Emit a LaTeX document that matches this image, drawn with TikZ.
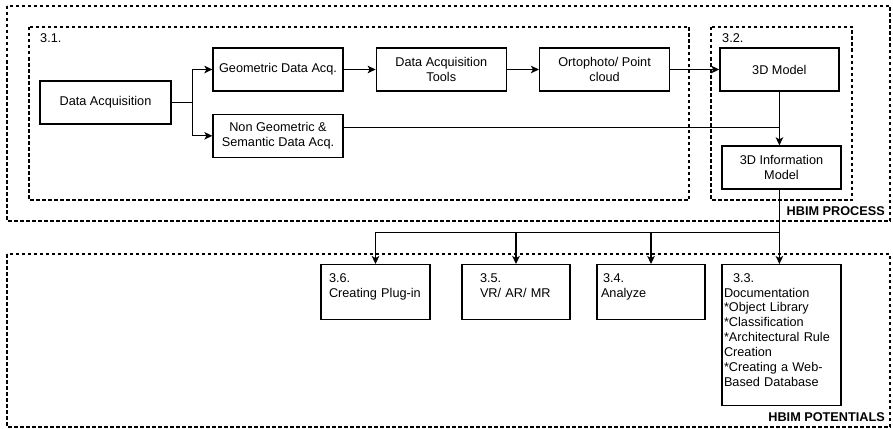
\documentclass[tikz,border=0pt]{standalone}
\usepackage{fontspec}
\setmainfont{Liberation Sans}
\usetikzlibrary{positioning,arrows.meta}

\tikzset{
  stepbox/.style={draw, line width=1.3pt, align=center, minimum width=130pt,
    minimum height=43pt, inner sep=2pt},
  potbox/.style={draw, line width=1.3pt, anchor=north, align=left,
    inner ysep=0pt, text height=17.5pt, text depth=37.5pt},
  group/.style={draw, line width=1.3pt, dash pattern=on 3.5pt off 2.5pt},
  link/.style={->, line width=1.3pt},
  tag/.style={inner sep=0pt},
  title/.style={inner sep=0pt, anchor=east, font=\fontsize{12.7}{15}\selectfont\bfseries}
}

\begin{document}
\begin{tikzpicture}[x=1pt, y=-1pt, >={Stealth[length=8pt,width=7.5pt,inset=2pt]},
    font=\fontsize{12.7}{14.9}\selectfont]
  \useasboundingbox (0,0) rectangle (893,428);

  % dashed groups
  \draw[group] (7,6) rectangle (890,221);
  \draw[group] (29,27) rectangle (689,200);
  \draw[group] (711,27) rectangle (852,200);
  \draw[group] (7,254) rectangle (890,427);
  \node[tag, anchor=west] (t31) at (40,38) {3.1.};
  \node[tag, anchor=west] (t32) at (722,38) {3.2.};
  \node[title] (process) at (885,211) {HBIM PROCESS};
  \node[title] (potentials) at (885,417) {HBIM POTENTIALS};

  % process
  \node[stepbox, minimum width=131pt] (acq) at (105.5,102.5) {Data Acquisition};
  \node[stepbox] (geo) at (278,69.5) {Geometric Data Acq.};
  \node[stepbox, below=22pt of geo] (nongeo) {Non Geometric \&\\Semantic Data Acq.};
  \node[stepbox, right=32pt of geo] (tools) {Data Acquisition\\Tools};
  \node[stepbox, right=32pt of tools] (ortho) {Ortophoto/ Point\\cloud};
  \node[stepbox, minimum width=119pt, right=49pt of ortho] (model) {3D Model};
  \node[stepbox, minimum width=119pt] (info) at (781.5,167.5) {3D Information\\Model};

  \draw[link] (acq.east) -- ++(21,0) coordinate (fork) |- (geo.west);
  \draw[link] (fork) |- (nongeo.west);
  \draw[link] (geo) -- (tools);
  \draw[link] (tools) -- (ortho);
  \draw[link] (ortho) -- (model);
  \draw[link] (model.south) -- (model.south |- info.north);
  \coordinate (ng) at ([yshift=8.5pt]nongeo.east);
  \draw[line width=1.3pt] (ng) -- (ng -| model.south);

  % potentials
  \node[potbox, text width=93pt, inner xsep=8pt] (plug) at (375.5,264)
    {3.6.\\Creating Plug-in};
  \node[potbox, text width=72pt, inner xsep=18pt] (vr) at (516,264)
    {3.5.\\VR/ AR/ MR};
  \node[potbox, text width=100pt, inner xsep=4pt] (ana) at (651,264)
    {\hspace*{2pt}3.4.\\Analyze};
  \node[potbox, text width=115pt, inner xsep=2pt, text depth=123.5pt] (doc) at (781.5,264)
    {\hspace*{9pt}3.3.\\Documentation\\{}*Object Library\\{}*Classification\\{}*Architectural Rule\\Creation\\{}*Creating a Web-\\Based Database};

  \path (info.south -| model.south) ++(0,43) coordinate (hub);
  \draw[link] (info.south -| model.south) -- (hub) -- (hub |- doc.north);
  \draw[link] (hub) -| (ana.north);
  \draw[link] (hub) -| (vr.north);
  \draw[link] (hub) -| (plug.north);
\end{tikzpicture}
\end{document}
